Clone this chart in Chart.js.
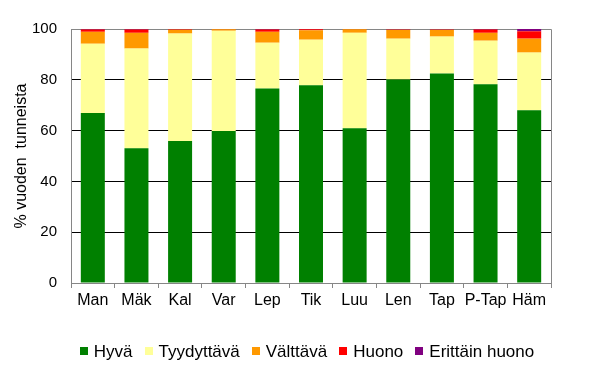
<!DOCTYPE html>
<html><head><meta charset="utf-8">
<script src="https://cdn.jsdelivr.net/npm/chart.js@4/dist/chart.umd.min.js"></script>
<style>html,body{margin:0;padding:0;background:#fff}#wrap{width:591px;height:382px;position:relative}</style>
</head><body><div id="wrap"><canvas id="c" width="591" height="382"></canvas></div>
<script>
const categories = ["Man","Mäk","Kal","Var","Lep","Tik","Luu","Len","Tap","P-Tap","Häm"];
const seriesNames = ["Hyvä","Tyydyttävä","Välttävä","Huono","Erittäin huono"];
const hyva       = [66.9, 53.1, 55.9, 59.8, 76.6, 77.9, 60.9, 80.1, 82.5, 78.2, 68.0];
const tyydyttava = [27.3, 39.2, 42.3, 39.5, 18.0, 17.9, 37.6, 16.1, 14.5, 17.2, 22.7];
const valttava   = [ 4.7,  6.2,  1.5,  0.6,  4.3,  3.7,  1.4,  3.5,  2.7,  3.1,  5.5];
const huono      = [ 0.9,  1.3,  0.2,  0.1,  0.9,  0.4,  0.1,  0.1,  0.1,  1.3,  2.9];
const erittain   = [ 0.2,  0.2,  0.1,  0.0,  0.2,  0.1,  0.0,  0.2,  0.2,  0.2,  0.9];
const yTicks = [0, 20, 40, 60, 80, 100];
const yTitle = "% vuoden  tunneista";
const colors = ["#008000","#FFFF99","#FF9900","#FF0000","#800080"];

const FONT = '"Liberation Sans", Arial, sans-serif';
const values = [hyva, tyydyttava, valttava, huono, erittain];

const frame = {
  id: 'frame',
  beforeDatasetsDraw(chart) {
    const {ctx, chartArea: a} = chart;
    ctx.save();
    ctx.strokeStyle = '#868686';
    ctx.lineWidth = 1;
    ctx.beginPath();
    const t = Math.round(a.top) + 0.5, r = Math.round(a.right) + 0.5;
    ctx.moveTo(Math.round(a.left), t); ctx.lineTo(r, t); ctx.lineTo(r, Math.round(a.bottom) + 0.5);
    ctx.stroke();
    ctx.restore();
  }
};

const customLegend = {
  id: 'customLegend',
  afterDraw(chart) {
    const ctx = chart.ctx;
    ctx.save();
    ctx.font = '17px ' + FONT;
    ctx.textBaseline = 'middle';
    ctx.textAlign = 'left';
    const box = 8, gapIn = 6, gapOut = 12;
    const ds = chart.data.datasets;
    const widths = ds.map(d => ctx.measureText(d.label).width);
    let total = widths.reduce((s, w) => s + box + gapIn + w, 0) + gapOut * (ds.length - 1);
    const cx = 307, cy = 351;
    let x = cx - total / 2;
    ds.forEach((d, i) => {
      ctx.fillStyle = d.backgroundColor;
      ctx.fillRect(Math.round(x), cy - 4, box, box);
      ctx.fillStyle = '#000';
      ctx.fillText(d.label, x + box + gapIn, cy + 1);
      x += box + gapIn + widths[i] + gapOut;
    });
    ctx.restore();
  }
};

new Chart(document.getElementById('c'), {
  type: 'bar',
  data: {
    labels: categories,
    datasets: seriesNames.map((n, i) => ({
      label: n,
      data: values[i],
      backgroundColor: colors[i],
      borderWidth: 0,
      barPercentage: 0.55,
      categoryPercentage: 1.0
    }))
  },
  options: {
    responsive: false,
    devicePixelRatio: 1,
    animation: false,
    layout: { padding: { left: 0, right: 40, top: 29, bottom: 68 } },
    plugins: { legend: { display: false }, tooltip: { enabled: false }, title: { display: false } },
    scales: {
      x: {
        stacked: true,
        offset: true,
        border: { display: true, color: '#868686', width: 1 },
        grid: { offset: true, drawOnChartArea: false, drawTicks: true, tickLength: 5, color: '#868686' },
        ticks: { color: '#000', font: { family: FONT, size: 16 }, padding: 3, maxRotation: 0, autoSkip: false },
        afterFit(s) { s.height = 31; }
      },
      y: {
        stacked: true,
        min: 0, max: 100,
        afterBuildTicks(s) { s.ticks = yTicks.map(v => ({ value: v })); },
        border: { display: true, color: '#868686', width: 1 },
        grid: {
          drawTicks: false,
          color: c => (c.tick && c.tick.value > 0 && c.tick.value < 100) ? '#000' : 'rgba(0,0,0,0)'
        },
        ticks: { color: '#000', font: { family: FONT, size: 15 }, padding: 14 },
        title: { display: true, text: yTitle, color: '#000', font: { family: FONT, size: 16 }, padding: { top: 12, bottom: 0 } },
        afterFit(s) { s.width = 71; }
      }
    }
  },
  plugins: [frame, customLegend]
});
</script>
</body></html>
